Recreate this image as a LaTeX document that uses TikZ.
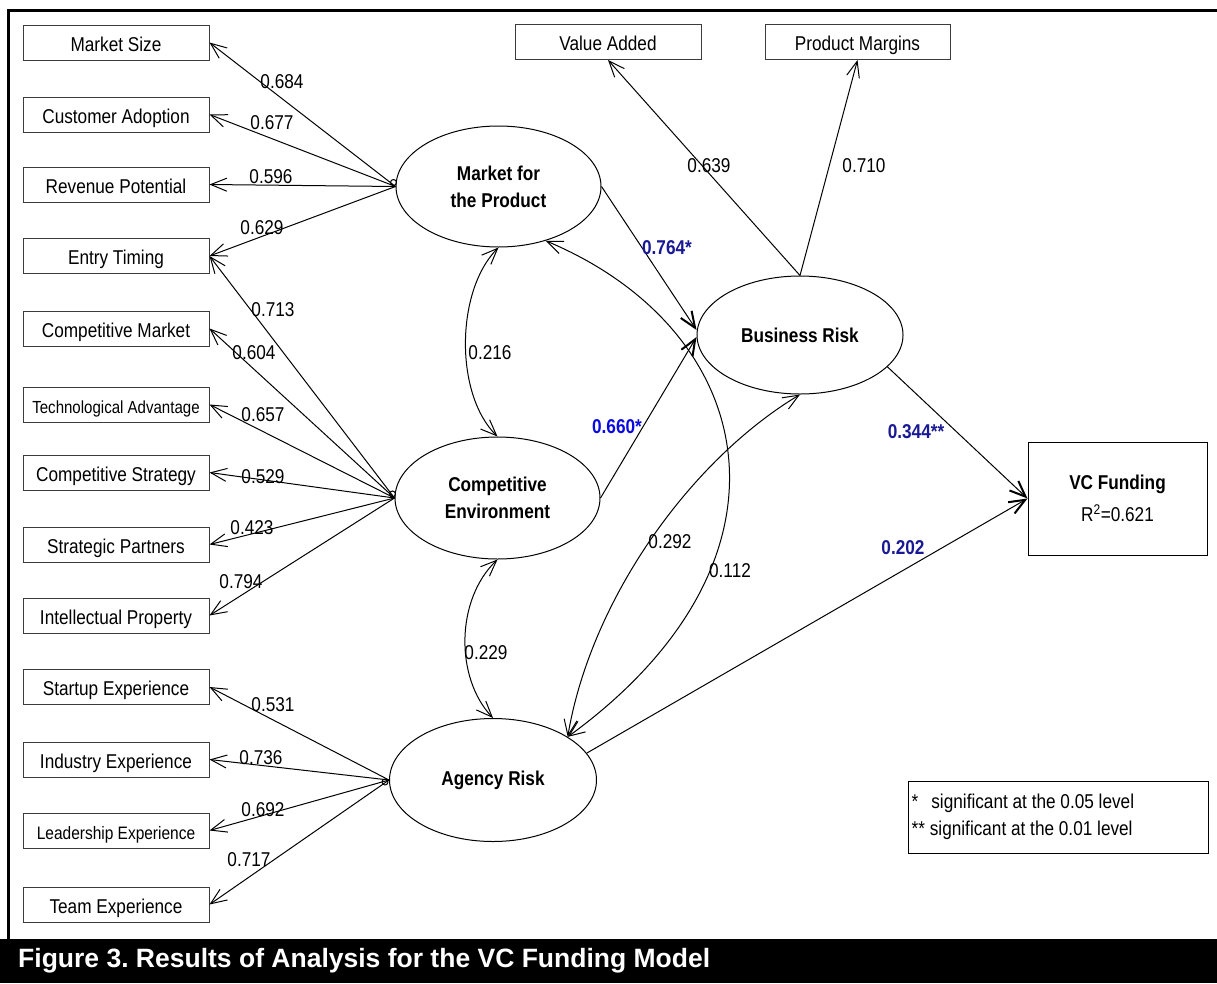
\documentclass[tikz,border=0pt]{standalone}
\usepackage{fontspec}
\setmainfont{Liberation Sans}
\newfontfamily\narrowsf[FakeStretch=0.86]{Liberation Sans}
\usetikzlibrary{shapes.geometric,arrows.meta,positioning}

\definecolor{pathblue}{RGB}{25,25,150}
\definecolor{brightblue}{RGB}{10,10,225}
\definecolor{boxgray}{RGB}{60,60,60}

\begin{document}
\begin{tikzpicture}[x=1pt,y=-1pt]
  \tikzset{>={Straight Barb[length=16pt,width=13pt]},
    every node/.style={font=\narrowsf\fontsize{20}{27}\selectfont},
    indicator/.style={draw=boxgray,rectangle,minimum width=186pt,minimum height=35pt,inner sep=0pt,line width=1pt,text height=18pt,text depth=0.5pt},
    latent/.style={draw,ellipse,inner sep=0pt,line width=1pt,align=center,font=\narrowsf\bfseries\fontsize{20}{27}\selectfont},
    loading/.style={inner sep=0pt},
    coef/.style={inner sep=0pt,text=pathblue,font=\narrowsf\bfseries\fontsize{20}{24}\selectfont},
    link/.style={->,line width=1pt},
    strong/.style={-{Straight Barb[length=16pt,width=13pt,line width=2pt]},line width=1pt},
    corr/.style={<->,line width=1pt},
    hook/.style={line width=1pt}
  }
  \useasboundingbox (0,0) rectangle (1217,983);

%%%%%%%%%%%%%%%%%%%%%%%%%%
% frame and caption
  \fill (0,939) rectangle (1217,983);
  \draw[line width=3pt] (8.5,939) -- (8.5,10) -- (1217,10);
  \node[anchor=base west,inner sep=0pt,text=white,font=\frenchspacing\bfseries\fontsize{26.5}{30}\selectfont] (caption) at (18,967) {Figure 3. Results of Analysis for the VC Funding Model};

%%%%%%%%%%%%%%%%%%%%%%%%%%
% indicators
  \node[indicator] (msize) at (116,42.5) {Market Size};
  \node[indicator] (cadopt) at (116,114.5) {Customer Adoption};
  \node[indicator] (revpot) at (116,184.5) {Revenue Potential};
  \node[indicator] (entry) at (116,256) {Entry Timing};
  \node[indicator] (compmkt) at (116,328.5) {Competitive Market};
  \node[indicator,font=\narrowsf\fontsize{17.5}{20}\selectfont] (techadv) at (116,404.5) {Technological Advantage};
  \node[indicator] (compstrat) at (116,472.5) {Competitive Strategy};
  \node[indicator] (partners) at (116,544.5) {Strategic Partners};
  \node[indicator] (ipprop) at (116,615.5) {Intellectual Property};
  \node[indicator] (startup) at (116,687) {Startup Experience};
  \node[indicator] (industry) at (116,759.5) {Industry Experience};
  \node[indicator,font=\narrowsf\fontsize{18}{20}\selectfont] (leader) at (116,830.5) {Leadership Experience};
  \node[indicator] (team) at (116,904.5) {Team Experience};

  \node[indicator] (valadd) at (608,42) {Value Added};
  \node[indicator,minimum width=185pt] (prodmar) at (857.5,42) {Product Margins};

%%%%%%%%%%%%%%%%%%%%%%%%%%
% latent variables
  \node[latent,minimum width=205pt,minimum height=121pt] (mkt) at (498.5,186.5) {Market for\\the Product};
  \node[latent,minimum width=205pt,minimum height=122pt] (cenv) at (497.5,498) {Competitive\\Environment};
  \node[latent,minimum width=207pt,minimum height=123pt] (agency) at (493,780) {Agency Risk};
  \node[latent,minimum width=206pt,minimum height=118pt] (bus) at (800,335) {Business Risk};

  \node[draw,line width=1pt,minimum width=179pt,minimum height=113pt,align=center] (vc) at (1117.5,498.5) {\textbf{VC Funding}\\[5pt]R\textsuperscript{2}=0.621};

  \node[draw,line width=1pt,minimum width=300pt,minimum height=72pt,inner sep=0pt] (legend) at (1058,817) {};
  \node[anchor=west,align=left,inner sep=0pt] (legendtext) at ([xshift=4pt]legend.west) {*\hspace{13pt}significant at the 0.05 level\\** significant at the 0.01 level};

%%%%%%%%%%%%%%%%%%%%%%%%%%
% loadings
  \draw[hook] ([xshift=-2pt,yshift=4pt]mkt.west) circle[radius=3pt];
  \draw[link] (mkt.west) -- (msize.east);
  \draw[link] (mkt.west) -- (cadopt.east);
  \draw[link] (mkt.west) -- (revpot.east);
  \draw[link] (mkt.west) -- (entry.east);

  \draw[hook] ([xshift=-2pt,yshift=4pt]cenv.west) circle[radius=3pt];
  \draw[link] (cenv.west) -- (entry.east);
  \draw[link] (cenv.west) -- (compmkt.east);
  \draw[link] (cenv.west) -- (techadv.east);
  \draw[link] (cenv.west) -- (compstrat.east);
  \draw[link] (cenv.west) -- (partners.east);
  \draw[link] (cenv.west) -- (ipprop.east);

  \draw[hook] ([xshift=-4pt,yshift=-2pt]agency.west) circle[radius=3pt];
  \draw[link] (agency.west) -- (startup.east);
  \draw[link] (agency.west) -- (industry.east);
  \draw[link] (agency.west) -- (leader.east);
  \draw[link] (agency.west) -- (team.east);

  \draw[link] (bus.north) -- (valadd.south);
  \draw[link] (bus.north) -- (prodmar.south);

  \node[loading] (lmsize) at (282,82) {0.684};
  \node[loading] (lcadopt) at (272,123) {0.677};
  \node[loading] (lrevpot) at (271,177) {0.596};
  \node[loading] (lentrym) at (262,228) {0.629};
  \node[loading] (lentryc) at (273,310) {0.713};
  \node[loading] (lcompmkt) at (254,353) {0.604};
  \node[loading] (ltechadv) at (263,415) {0.657};
  \node[loading] (lcompstrat) at (263,477) {0.529};
  \node[loading] (lpartners) at (252,528) {0.423};
  \node[loading] (lipprop) at (241,582) {0.794};
  \node[loading] (lstartup) at (273,705) {0.531};
  \node[loading] (lindustry) at (261,758) {0.736};
  \node[loading] (lleader) at (263,810) {0.692};
  \node[loading] (lteam) at (249,860) {0.717};
  \node[loading] (lvaladd) at (709,166) {0.639};
  \node[loading] (lprodmar) at (864,166) {0.710};

%%%%%%%%%%%%%%%%%%%%%%%%%%
% paths
  \draw[strong] (mkt.east) -- ([yshift=5pt]bus.west);
  \draw[strong] (cenv.east) -- ([yshift=-2pt]bus.west);
  \draw[strong] (bus.-20) -- (vc.west);
  \draw[strong] (agency.16) -- (vc.west);

  \node[coef] (pmkt) at (667,248) {0.764*};
  \node[coef,text=brightblue] (pcenv) at (617,427) {0.660*};
  \node[coef] (pbus) at (916,432) {0.344**};
  \node[coef] (pagency) at (903,548) {0.202};

% correlations
  \draw[corr] (mkt.south) .. controls +(-43,43) and +(-43,-42) .. (cenv.north);
  \draw[corr] (cenv.south) .. controls +(-42,40) and +(-38,-40) .. (agency.north);
  \draw[corr] (mkt.-49) .. controls +(214,90) and +(243,-177) .. (agency.30);
  \draw[corr] (bus.south) .. controls +(-110,66) and +(23,-137) .. (agency.30);

  \node[loading] (cmc) at (490,353) {0.216};
  \node[loading] (cca) at (486,653) {0.229};
  \node[loading] (cba) at (670,542) {0.292};
  \node[loading] (cma) at (730,571) {0.112};

\end{tikzpicture}
\end{document}
